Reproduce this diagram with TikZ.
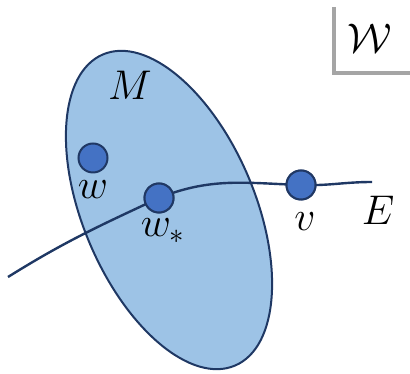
\documentclass[tikz,border=0pt]{standalone}
\usepackage{amsmath}
\definecolor{navy}{HTML}{1F3864}
\definecolor{lightfill}{HTML}{9DC3E6}
\definecolor{dotfill}{HTML}{4472C4}
\definecolor{dotline}{HTML}{203864}
\definecolor{bracketgray}{HTML}{A5A5A5}
\begin{document}
\begin{tikzpicture}[x=0.5pt,y=0.5pt,
  dotpt/.style={circle,draw=dotline,fill=dotfill,line width=1pt,minimum size=14.5pt,inner sep=0pt},
  lbl/.style={font=\fontsize{21}{24}\selectfont,inner sep=0pt},
  curveline/.style={draw=navy,line width=1.2pt}]
\useasboundingbox (0,0) rectangle (410,373);
% ellipse M
\path[fill=lightfill,draw=navy,line width=1pt] (169,163) ellipse [x radius=169,y radius=86,rotate=-67];
% named coordinates and dots
\coordinate (estart) at (8,96);
\coordinate (eend) at (372,191);
\node[dotpt] (w) at (93,215) {};
\node[dotpt] (ws) at (159,175) {};
\node[dotpt] (v) at (301,188) {};
% curve E
\draw[curveline] (estart) to[out=32,in=205] (ws.center) to[out=22,in=178] (v.center) to[out=-2,in=180] (eend);
\node[dotpt] at (ws) {};
\node[dotpt] at (v) {};
% labels
\node[lbl] (lM) at (130,288) {$M$};
\node[lbl] (lw) at (93,183) {$w$};
\node[lbl] (lws) at (163,142) {$w_*$};
\node[lbl] (lv) at (305,151) {$v$};
\node[lbl] (lE) at (378,163) {$E$};
\node[lbl] (lW) at (370,335) {$\mathcal{W}$};
% bracket
\coordinate (btop) at (334,366);
\coordinate (bcorner) at (334,300);
\coordinate (bend) at (410,300);
\draw[bracketgray,line width=1.8pt] (btop) -- (bcorner) -- (bend);
\end{tikzpicture}
\end{document}
